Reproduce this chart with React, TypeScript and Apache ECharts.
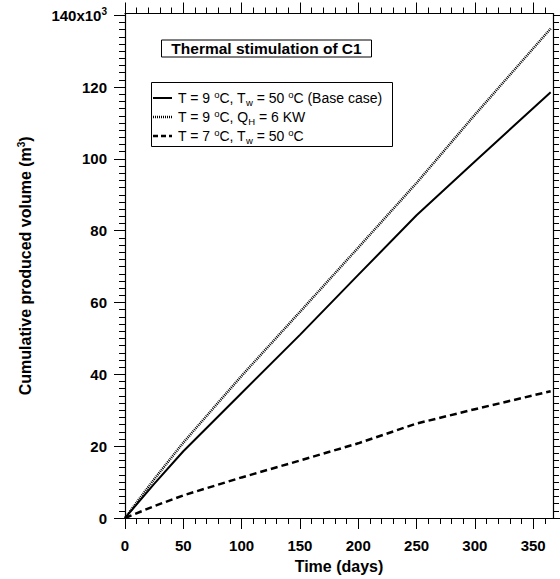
import React, { useEffect, useRef } from "react";
import * as echarts from "echarts";

// ---- data ----
const days = [0, 25, 50, 100, 150, 200, 250, 300, 365];
const baseCase = [0, 9.5, 18.6, 34.8, 51.0, 67.7, 84.3, 99.3, 118.6];
const heatQH = [0, 10.8, 21.0, 39.6, 57.4, 75.3, 93.3, 112.3, 136.3];
const lowT = [0, 3.3, 6.3, 11.3, 16.0, 20.8, 26.3, 30.3, 35.3];

const xMajorTicks = [0, 50, 100, 150, 200, 250, 300, 350];
const yMajorTicks = [0, 20, 40, 60, 80, 100, 120, 140];
const xMinorStep = 10;
const yMinorStep = 2;
const xMax = 367;
const yMax = 140.5;

const titleText = "Thermal stimulation of C1";

const FONT = "Liberation Sans, Arial, Helvetica, sans-serif";

function minorValues(step: number, last: number, majors: number[]) {
  const out: number[] = [];
  for (let v = step; v <= last + 1e-9; v += step) {
    const r = Math.round(v * 1000) / 1000;
    if (!majors.includes(r)) out.push(r);
  }
  return out;
}

export default function App() {
  const ref = useRef<HTMLDivElement>(null);

  useEffect(() => {
    if (!ref.current) return;
    const chart = echarts.init(ref.current, null, { renderer: "svg" });

    const xMinor = minorValues(xMinorStep, 360, xMajorTicks);
    const yMinor = minorValues(yMinorStep, 140, yMajorTicks);

    const axisLineStyle = { color: "#000", width: 1.2 };
    const tickStyle = { color: "#000", width: 1 };
    const MAJOR = 11;
    const MINOR = 6;

    const labelRich = {
      a: { fontFamily: FONT, fontSize: 15, fontWeight: "bold" as const, color: "#000", lineHeight: 17 },
      s: { fontFamily: FONT, fontSize: 10, fontWeight: "bold" as const, color: "#000", lineHeight: 10, padding: [0, 0, 7, 0] },
    };

    const baseX = (position: "top" | "bottom", major: boolean, showLine: boolean) => ({
      type: "value" as const,
      position,
      min: 0,
      max: xMax,
      axisLine: { show: showLine, onZero: false, lineStyle: axisLineStyle },
      axisTick: {
        show: true,
        inside: false,
        length: major ? MAJOR : MINOR,
        customValues: major ? xMajorTicks : xMinor,
        lineStyle: tickStyle,
      },
      axisLabel: { show: false },
      splitLine: { show: false },
    });

    const baseY = (position: "left" | "right", major: boolean, showLine: boolean) => ({
      type: "value" as const,
      position,
      min: 0,
      max: yMax,
      axisLine: { show: showLine, onZero: false, lineStyle: axisLineStyle },
      axisTick: {
        show: true,
        inside: false,
        length: major ? MAJOR : MINOR,
        customValues: major ? yMajorTicks : yMinor,
        lineStyle: tickStyle,
      },
      axisLabel: { show: false },
      splitLine: { show: false },
    });

    const xAxes = [
      {
        ...baseX("bottom", true, true),
        axisLabel: {
          show: true,
          customValues: xMajorTicks,
          margin: 20,
          fontFamily: FONT,
          fontSize: 15,
          fontWeight: "bold",
          color: "#000",
        },
        name: "Time (days)",
        nameLocation: "middle",
        nameGap: 40,
        nameTextStyle: { fontFamily: FONT, fontSize: 16, fontWeight: "bold", color: "#000" },
      },
      baseX("bottom", false, false),
      baseX("top", true, true),
      baseX("top", false, false),
    ];

    const yAxes = [
      {
        ...baseY("left", true, true),
        axisLabel: {
          show: true,
          customValues: yMajorTicks,
          margin: 18,
          formatter: (v: number) => (v === 140 ? "{a|140x10}{s|3}" : "{a|" + v + "}"),
          rich: labelRich,
        },
        name: "{t|Cumulative produced volume (m}{s|3}{t|)}",
        nameLocation: "middle",
        nameGap: 91,
        nameTextStyle: {
          rich: {
            t: { fontFamily: FONT, fontSize: 16, fontWeight: "bold", color: "#000", lineHeight: 18 },
            s: { fontFamily: FONT, fontSize: 10, fontWeight: "bold", color: "#000", lineHeight: 10, padding: [0, 0, 8, 0] },
          },
        },
      },
      baseY("left", false, false),
      baseY("right", true, true),
      baseY("right", false, false),
    ];

    const legendRich = {
      n: { fontFamily: FONT, fontSize: 14, color: "#000", lineHeight: 17 },
      sup: { fontFamily: FONT, fontSize: 9.5, color: "#000", lineHeight: 9, padding: [0, 0, 8, 0] },
      sub: { fontFamily: FONT, fontSize: 9.5, color: "#000", lineHeight: 9, padding: [8, 0, 0, 0] },
    };

    const legendRows = [
      { text: "{n|T = 9 }{sup|o}{n|C, T}{sub|w}{n| = 50 }{sup|o}{n|C (Base case)}", dash: null as number[] | null, width: 2 },
      { text: "{n|T = 9 }{sup|o}{n|C, Q}{sub|H}{n| = 6 KW}", dash: [1, 1], width: 2.5 },
      { text: "{n|T = 7 }{sup|o}{n|C, T}{sub|w}{n| = 50 }{sup|o}{n|C}", dash: [5, 3], width: 2.5 },
    ];
    const rowY = [98, 117, 136];

    const graphic: any[] = [
      {
        type: "rect",
        z: 100,
        shape: { x: 161.5, y: 40, width: 210, height: 17 },
        style: { fill: "#fff", stroke: "#000", lineWidth: 1 },
      },
      {
        type: "text",
        z: 101,
        x: 266.5,
        y: 48.5,
        style: {
          text: titleText,
          fontFamily: FONT,
          fontSize: 15.5,
          fontWeight: "bold",
          fill: "#000",
          align: "center",
          verticalAlign: "middle",
        },
      },
      {
        type: "rect",
        z: 100,
        shape: { x: 151.5, y: 82.5, width: 241, height: 64 },
        style: { fill: "#fff", stroke: "#000", lineWidth: 1 },
      },
    ];
    legendRows.forEach((r, i) => {
      graphic.push({
        type: "line",
        z: 101,
        shape: { x1: 153, y1: rowY[i], x2: 172, y2: rowY[i] },
        style: { stroke: "#000", lineWidth: r.width, lineDash: r.dash || undefined },
      });
      graphic.push({
        type: "text",
        z: 101,
        x: 178,
        y: rowY[i],
        style: {
          text: r.text,
          rich: legendRich,
          fill: "#000",
          align: "left",
          verticalAlign: "middle",
        },
      });
    });

    const mk = (name: string, values: number[], lineStyle: any) => ({
      name,
      type: "line",
      xAxisIndex: 0,
      yAxisIndex: 0,
      data: days.map((d, i) => [d, values[i]]),
      showSymbol: false,
      symbol: "none",
      smooth: false,
      lineStyle: { color: "#000", ...lineStyle },
      z: 5,
    });

    chart.setOption({
      animation: false,
      backgroundColor: "#fff",
      grid: { left: 125, right: 7, top: 13.5, bottom: 60.5 },
      xAxis: xAxes,
      yAxis: yAxes,
      graphic,
      series: [
        mk("base", baseCase, { width: 2, type: "solid" }),
        mk("qh", heatQH, { width: 2.5, type: [1, 1] }),
        mk("lowT", lowT, { width: 2.5, type: [7, 4] }),
      ],
    });

    return () => chart.dispose();
  }, []);

  return (
    <div
      ref={ref}
      style={{ position: "fixed", left: 0, top: 0, width: 560, height: 579, background: "#fff" }}
    />
  );
}
